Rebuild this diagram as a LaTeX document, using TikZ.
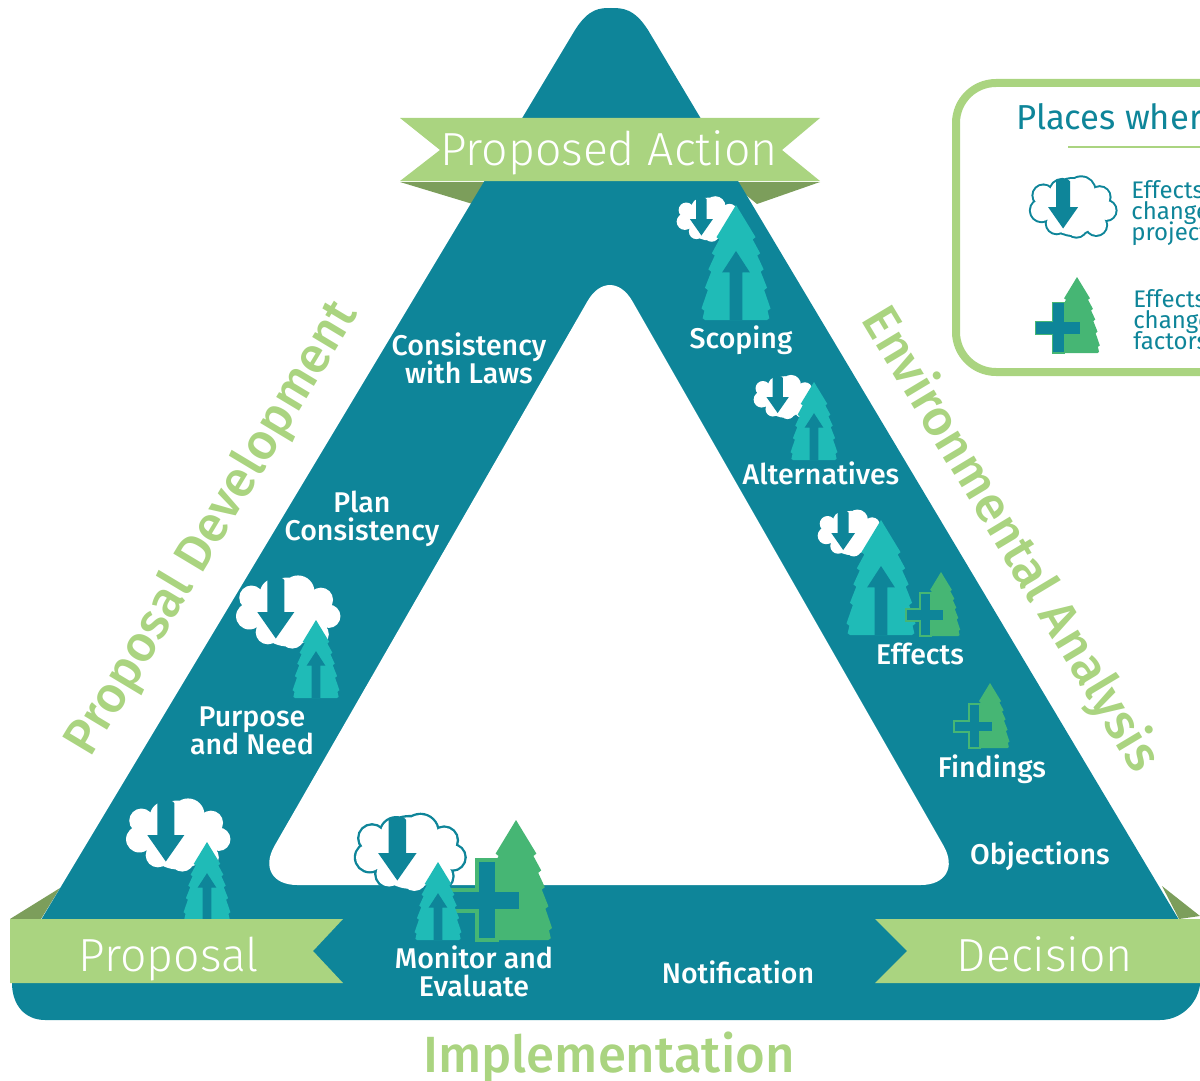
\documentclass[tikz,border=0pt]{standalone}
\usepackage{fontspec}
\setmainfont{Fira Sans}
\newfontfamily\lightf{Fira Sans}[UprightFont=* Light]
\newfontfamily\medf{Fira Sans}[UprightFont=* Medium]
\definecolor{tealc}{HTML}{0E8599}
\definecolor{treec}{HTML}{1FBBB7}
\definecolor{greent}{HTML}{46B674}
\definecolor{ribbon}{HTML}{AAD480}
\definecolor{fold}{HTML}{7C9E5B}
\lineskiplimit=-20pt
\tikzset{
  lab/.style={text=white,align=center,font=\medf\fontsize{21.4}{21}\selectfont,inner sep=0pt},
  big/.style={text=white,anchor=base,font=\lightf\fontsize{34.8}{36}\selectfont,inner sep=0pt},
  side/.style={text=ribbon,font=\medf\fontsize{37.8}{38}\selectfont,inner sep=0pt},
  legt/.style={text=tealc,anchor=north west,align=left,font=\fontsize{18}{15.7}\selectfont,inner sep=0pt},
}
\newcommand{\treeshape}[4]{% x, top y, height, colour
  \begin{scope}[shift={(#1,#2)},scale=#3]
    \fill[#4] (0,0)--(.17,.28)--(.145,.30)--(.21,.42)--(.185,.44)--(.24,.56)--(.215,.58)--(.27,.72)--(.245,.74)--(.30,.90)--(.275,.92)--(.29,.985)--(.27,1)
      --(-.27,1)--(-.29,.985)--(-.275,.92)--(-.30,.90)--(-.245,.74)--(-.27,.72)--(-.215,.58)--(-.24,.56)--(-.185,.44)--(-.21,.42)--(-.145,.30)--(-.17,.28)--cycle;
  \end{scope}}
\newcommand{\uptree}[3]{% x, top y, height
  \treeshape{#1}{#2}{#3}{treec}
  \begin{scope}[shift={(#1,#2)},scale=#3]
    \fill[tealc] (0,.40)--(.12,.585)--(.055,.585)--(.055,1)--(-.055,1)--(-.055,.585)--(-.12,.585)--cycle;
  \end{scope}}
\newcommand{\plustree}[4]{% x, top y, height, outline width
  \treeshape{#1}{#2}{#3}{greent}
  \begin{scope}[shift={(#1,#2)},scale=#3]
    \filldraw[fill=tealc,draw=greent,line width=#4] (-.325,.33)--(-.16,.33)--(-.16,.58)--(.04,.58)--(.04,.76)--(-.16,.76)--(-.16,1)--(-.325,1)--(-.325,.76)--(-.55,.76)--(-.55,.58)--(-.325,.58)--cycle;
  \end{scope}}
\newcommand{\cloudpuffs}[1]{%
  \path[#1] (-.25,-.35) circle (.28) (.19,-.38) circle (.31) (.62,-.23) circle (.23) (.77,.08) circle (.22) (.54,.42) circle (.23) (.08,.46) circle (.23) (-.38,.38) circle (.23) (-.73,.08) circle (.25) (-.69,-.27) circle (.23) (0,0) circle (.65);}
\newcommand{\cloudicon}[4]{% x, y, half width, outline width
  \begin{scope}[shift={(#1,#2)},scale=#3]
    \cloudpuffs{draw=tealc,line width=#4}
    \cloudpuffs{fill=white}
    \fill[tealc] (-.39,-.60) .. controls (-.36,-.68) and (-.10,-.68) .. (-.07,-.60)--(-.07,0)--(.12,0)--(-.23,.50)--(-.58,0)--(-.39,0)--cycle;
  \end{scope}}
\begin{document}
\begin{tikzpicture}[x=.75pt,y=-.75pt]
\useasboundingbox (0,0) rectangle (1200,1081);
\clip (0,0) rectangle (1200,1081);
% folds
\fill[fold] (400,182)--(476,205)--(494,182)--cycle;
\fill[fold] (820,182)--(757,204)--(730,182)--cycle;
\fill[fold] (60,888)--(10,919)--(41,919)--cycle;
\fill[fold] (1162,886)--(1200,916)--(1179,919)--cycle;
% main frame
\fill[tealc] (575,30) .. controls (589,8) and (600,8) .. (611,8) .. controls (622,8) and (634,8) .. (648,30)
  -- (1179,920) -- (1200,920) -- (1200,985) .. controls (1197,1005) and (1180,1020) .. (1160,1020)
  -- (45,1020) .. controls (25,1020) and (12,1005) .. (12,983) -- (12,920) -- (41,920) -- cycle;
\fill[white,rounded corners=34pt] (610,262) -- (966,885) -- (252,885) -- cycle;
% legend
\draw[ribbon,line width=6pt,rounded corners=30pt] (956,83) rectangle (1260,372);
\node[text=tealc,anchor=base west,font=\fontsize{26}{26}\selectfont,inner sep=0pt] (legtitle) at (1016,129) {Places where};
\draw[ribbon,line width=2.2pt] (1068,147) -- (1200,147);
\cloudicon{1073}{207}{43}{3pt}
\node[legt] (legone) at (1131,180) {Effects\\change\\project};
\plustree{1077}{277}{76}{.8pt}
\node[legt] (legtwo) at (1133,289) {Effects\\change\\factors};
% icons
\cloudicon{709}{219}{33}{0pt}
\uptree{736}{205}{115}
\cloudicon{785}{397}{32}{0pt}
\uptree{814}{382}{78}
\cloudicon{851}{533}{34}{0pt}
\uptree{881}{520}{115}
\plustree{941}{572}{64}{1.5pt}
\plustree{990}{683}{65}{1.5pt}
\cloudicon{288}{612}{53}{0pt}
\uptree{316}{620}{78}
\cloudicon{178}{835}{53}{0pt}
\uptree{207}{842}{78}
\cloudicon{410}{853}{55}{3.5pt}
\plustree{516}{820}{120}{3pt}
\uptree{438}{862}{78}
% ribbons
\fill[ribbon] (400,118)--(820,118)--(782,150)--(820,181)--(400,181)--(440,150)--cycle;
\fill[ribbon] (10,919)--(343,919)--(313,951)--(343,983)--(10,983)--cycle;
\fill[ribbon] (875,919)--(1200,919)--(1200,983)--(875,983)--(907,951)--cycle;
\node[big] (action) at (609,166) {Proposed Action};
\node[big] (proposal) at (169,971) {Proposal};
\node[big] (decision) at (1045,971) {Decision};
% labels
\node[lab] (laws) at (469,358) {Consistency\\with Laws};
\node[lab] (plan) at (362,519) {Plan\\Consistency};
\node[lab] (purpose) at (252,731) {Purpose\\and Need};
\node[lab] (scoping) at (741,340) {Scoping};
\node[lab] (alts) at (821,473) {Alternatives};
\node[lab] (effects) at (920,654) {Effects};
\node[lab] (findings) at (992,769) {Findings};
\node[lab] (objections) at (1040,856) {Objections};
\node[lab] (monitor) at (474,971) {Monitor and\\Evaluate};
\node[lab] (notification) at (738,972) {Notification};
\node[side,rotate=59] (pdev) at (213,529) {Proposal Development};
\node[side,rotate=-59] (eanal) at (1010,540) {Environmental Analysis};
\node[side,font=\medf\fontsize{38.2}{38}\selectfont] (impl) at (609,1058) {Implementation};
\end{tikzpicture}
\end{document}
